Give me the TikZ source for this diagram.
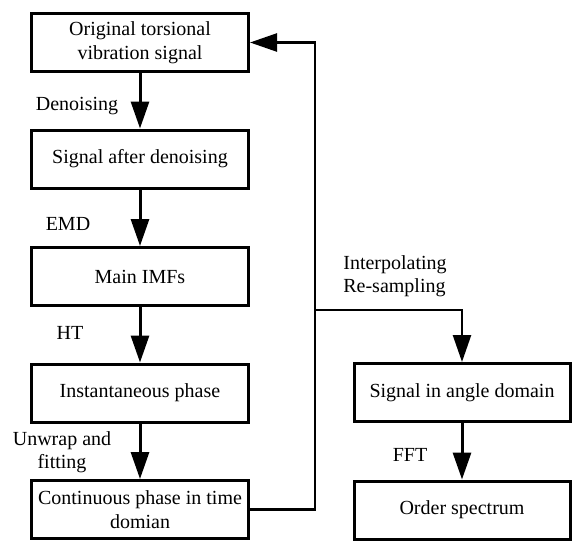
\documentclass[tikz,border=0pt]{standalone}
\usepackage{fontspec}
\setmainfont{Liberation Serif}
\usetikzlibrary{arrows.meta}
\begin{document}
\begin{tikzpicture}[x=1pt,y=1pt,
  box/.style={draw,line width=3pt,rectangle,minimum width=217pt,minimum height=58pt,inner sep=2pt,align=center,font=\fontsize{20}{24}\selectfont},
  lbl/.style={inner sep=0pt,align=center,font=\fontsize{20}{23}\selectfont},
  flow/.style={line width=3pt,-{Triangle[length=27pt,width=18pt]}},
  back/.style={line width=2.5pt,-{Triangle[length=27pt,width=18pt]}}]
\useasboundingbox (0,0) rectangle (573,-541);
\node[box] (b1) at (140,-42.5) {Original torsional\\vibration signal};
\node[box] (b2) at (140,-159) {Signal after denoising};
\node[box] (b3) at (140,-276.5) {Main IMFs};
\node[box] (b4) at (140,-393) {Instantaneous phase};
\node[box] (b5) at (140,-509.5) {Continuous phase in time\\domian};
\node[box,minimum width=216pt] (b6) at (462,-392.5) {Signal in angle domain};
\node[box,minimum width=216pt] (b7) at (462,-510) {Order spectrum};
\coordinate (c1) at (315,-509.5);
\coordinate (c2) at (315,-42.5);
\coordinate (j) at (315,-310);
\coordinate (k) at (462,-310);
\draw[flow] (b1) -- (b2);
\draw[flow] (b2) -- (b3);
\draw[flow] (b3) -- (b4);
\draw[flow] (b4) -- (b5);
\draw[flow] (b6) -- (b7);
\draw[back] (b5.east) -- (c1) -- (c2) -- (b1.east);
\draw[back] (j) -- (k) -- (b6.north);
\node[lbl] (l1) at (77,-106) {Denoising};
\node[lbl] (l2) at (68,-224) {EMD};
\node[lbl] (l3) at (70,-333) {HT};
\node[lbl] (l4) at (62,-452) {Unwrap and\\fitting};
\node[lbl] (l5) at (410,-455) {FFT};
\node[lbl,align=left] (l6) at (395,-276) {Interpolating\\Re-sampling};
\end{tikzpicture}
\end{document}
